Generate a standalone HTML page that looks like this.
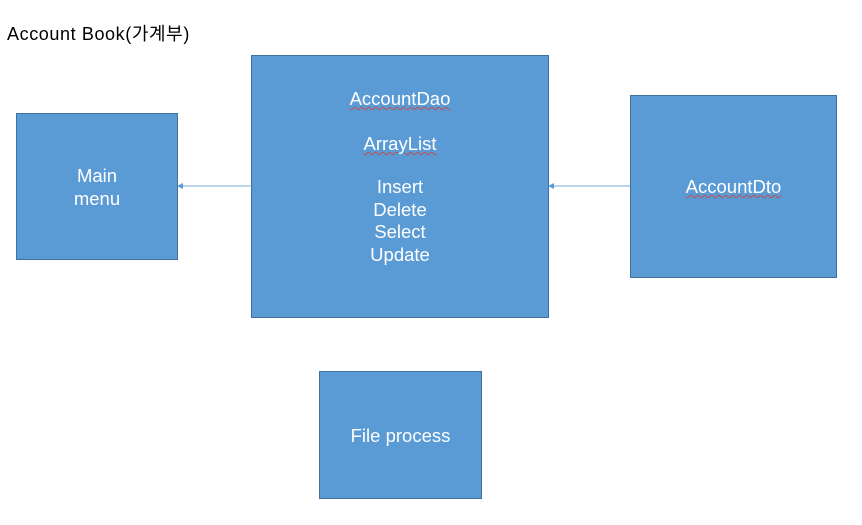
<!DOCTYPE html>
<html><head><meta charset="utf-8"><style>
body{margin:0;width:862px;height:525px;background:#fff;position:relative;overflow:hidden;font-family:"Liberation Sans","Noto Sans CJK KR",sans-serif}
.b{position:absolute;background:#5b9bd5;border:1px solid #41719c;box-sizing:border-box;color:#fff;font-size:18.5px}
.t{position:absolute;left:0;right:0;text-align:center;line-height:22.5px}
.u{text-decoration:underline wavy #c0504d;text-decoration-thickness:1px}
</style></head><body>
<div style="position:absolute;left:7px;top:20px;font-size:18px;letter-spacing:0.6px;color:#000">Account Book(가계부)</div>
<svg style="position:absolute;left:0;top:0" width="862" height="525">
<line x1="251" y1="186" x2="182" y2="186" stroke="#7ea9d6" stroke-width="1"/>
<polygon points="177,186 183,183 183,189" fill="#5b9bd5"/>
<line x1="630" y1="186" x2="553" y2="186" stroke="#7ea9d6" stroke-width="1"/>
<polygon points="548,186 554,183 554,189" fill="#5b9bd5"/>
</svg>
<div class="b" style="left:16px;top:113px;width:162px;height:147px"><div class="t" style="top:51px">Main<br>menu</div></div>
<div class="b" style="left:251px;top:55px;width:298px;height:263px">
<div class="t" style="top:32px"><span class="u">AccountDao</span></div>
<div class="t" style="top:77px"><span class="u">ArrayList</span></div>
<div class="t" style="top:120px">Insert<br>Delete<br>Select<br>Update</div>
</div>
<div class="b" style="left:630px;top:95px;width:207px;height:183px"><div class="t" style="top:80px"><span class="u">AccountDto</span></div></div>
<div class="b" style="left:319px;top:371px;width:163px;height:128px"><div class="t" style="top:53px">File process</div></div>
</body></html>
